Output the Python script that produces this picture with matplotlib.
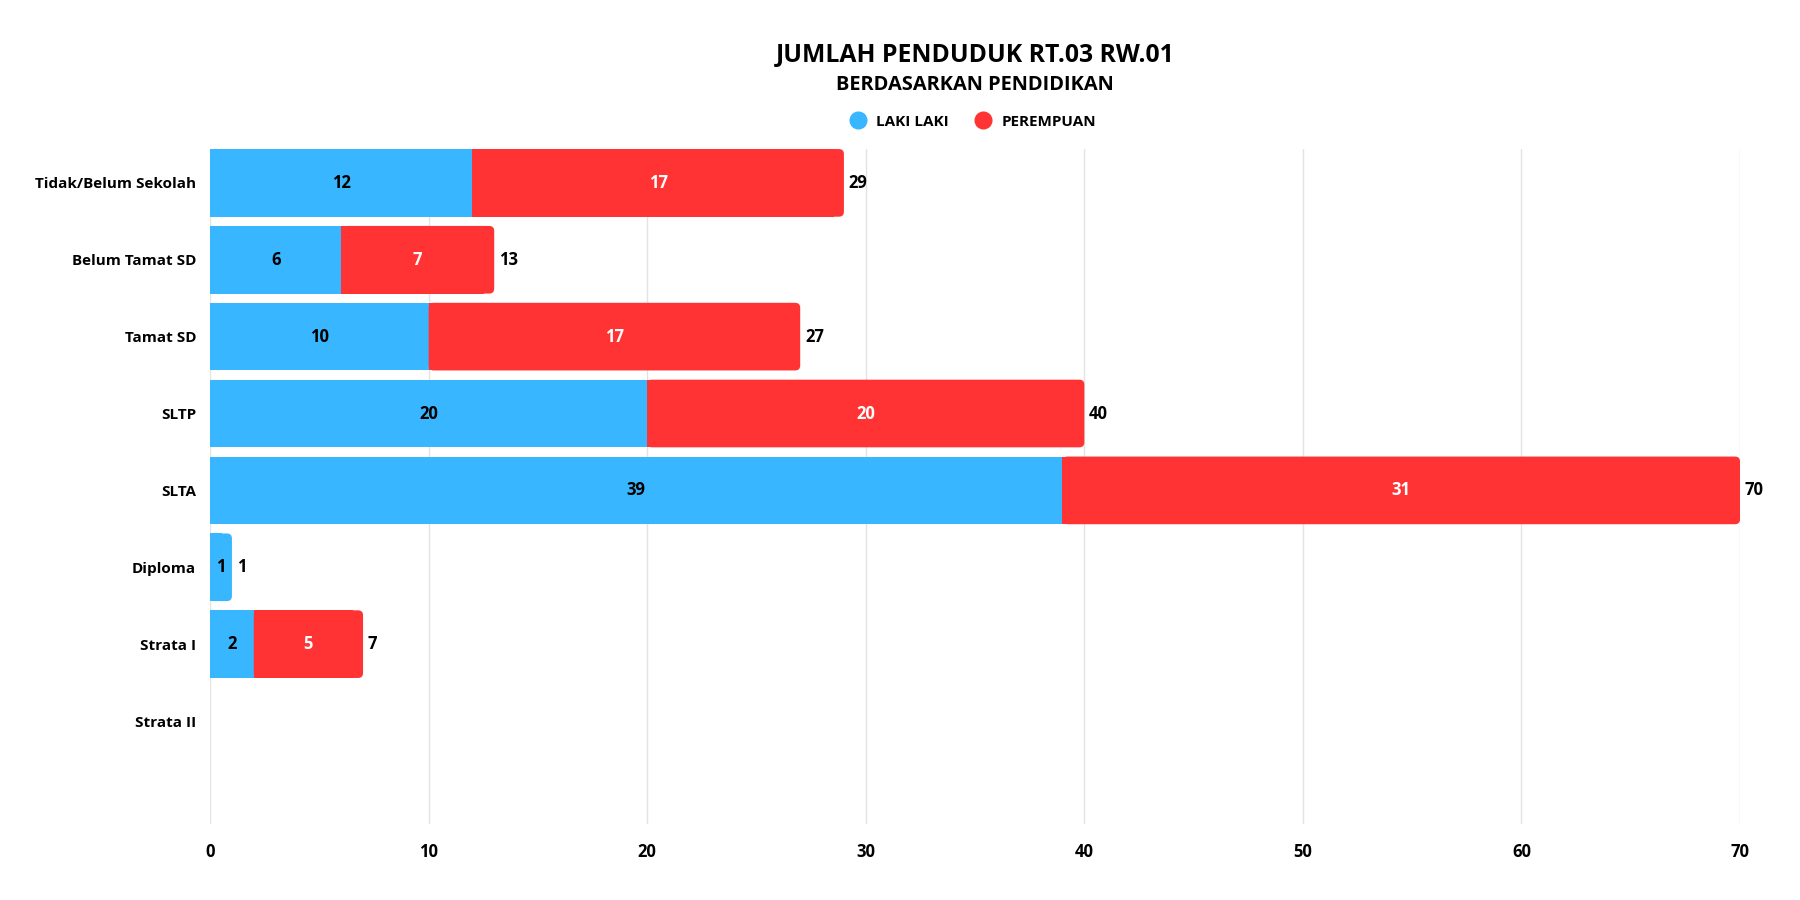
import matplotlib
matplotlib.use("Agg")
import matplotlib.pyplot as plt
from matplotlib.lines import Line2D
from matplotlib.patches import FancyBboxPatch, Rectangle

# data
categories = ["Tidak/Belum Sekolah", "Belum Tamat SD", "Tamat SD", "SLTP",
              "SLTA", "Diploma", "Strata I", "Strata II"]
laki = [12, 6, 10, 20, 39, 1, 2, 0]
perempuan = [17, 7, 17, 20, 31, 0, 5, 0]
ticks = [0, 10, 20, 30, 40, 50, 60, 70]

blue = "#38B6FF"
red = "#FF3333"
plt.rcParams['font.family'] = ['Open Sans', 'DejaVu Sans']

fig = plt.figure(figsize=(18, 9), dpi=100)
ax = fig.add_axes([0.1167, 0.0844, 0.85, 0.75])
ax.set_xlim(0, 70)
ax.set_ylim(8.34, -0.44)

ypos = list(range(len(categories)))
bars_l = ax.barh(ypos, laki, height=0.88, color=blue, zorder=3)
bars_p = ax.barh(ypos, perempuan, left=laki, height=0.88, color=red, zorder=3)

# round the right end of each stacked bar
px_x = 70 / (0.85 * 1800)
px_y = 8.78 / (0.75 * 900)
rad = 5 * px_x
for i in ypos:
    if perempuan[i] > 0:
        rect, col = bars_p[i], red
    elif laki[i] > 0:
        rect, col = bars_l[i], blue
    else:
        continue
    x0, y0 = rect.get_x(), rect.get_y()
    w, h = rect.get_width(), rect.get_height()
    rect.set_visible(False)
    ax.add_patch(FancyBboxPatch((x0, y0), w, h,
                                boxstyle="round,pad=0,rounding_size=%f" % rad,
                                mutation_aspect=px_y / px_x,
                                facecolor=col, edgecolor="none", zorder=3))
    ax.add_patch(Rectangle((x0, y0), w - 2 * rad, h, facecolor=col,
                           edgecolor="none", antialiased=False, zorder=3))

for i in ypos:
    total = laki[i] + perempuan[i]
    if total == 0:
        continue
    if laki[i] > 0:
        ax.text(laki[i] / 2, i, str(laki[i]), ha="center", va="center",
                fontsize=12, fontweight="bold", color="black", zorder=4)
    if perempuan[i] > 0:
        ax.text(laki[i] + perempuan[i] / 2, i, str(perempuan[i]), ha="center",
                va="center", fontsize=12, fontweight="bold", color="white", zorder=4)
    ax.text(total + 0.22, i, str(total), ha="left", va="center",
            fontsize=12, fontweight="bold", color="black", zorder=4)

ax.set_yticks(ypos)
ax.set_yticklabels(categories, fontsize=11, fontweight="bold")
ax.set_xticks(ticks)
ax.set_xticklabels([str(t) for t in ticks], fontsize=12, fontweight="bold")
ax.tick_params(length=0)
ax.tick_params(axis="y", pad=10)
ax.tick_params(axis="x", pad=14)
for s in ax.spines.values():
    s.set_visible(False)
ax.grid(axis="x", color="#e3e3e3", linewidth=1, zorder=0)

fig.text(0.5417, 0.938, "JUMLAH PENDUDUK RT.03 RW.01", ha="center", va="center",
         fontsize=17.8, fontweight="bold")
fig.text(0.5417, 0.906, "BERDASARKAN PENDIDIKAN", ha="center", va="center",
         fontsize=14.4, fontweight="bold")

handles = [Line2D([], [], marker="o", linestyle="", markersize=12, color=blue),
           Line2D([], [], marker="o", linestyle="", markersize=12, color=red)]
fig.legend(handles, ["LAKI LAKI", "PEREMPUAN"], loc="center",
           bbox_to_anchor=(0.5385, 0.865), ncol=2, frameon=False,
           prop={"weight": "bold", "size": 11}, handletextpad=0.2,
           columnspacing=1.2)

fig.savefig("out.png", dpi=100)
